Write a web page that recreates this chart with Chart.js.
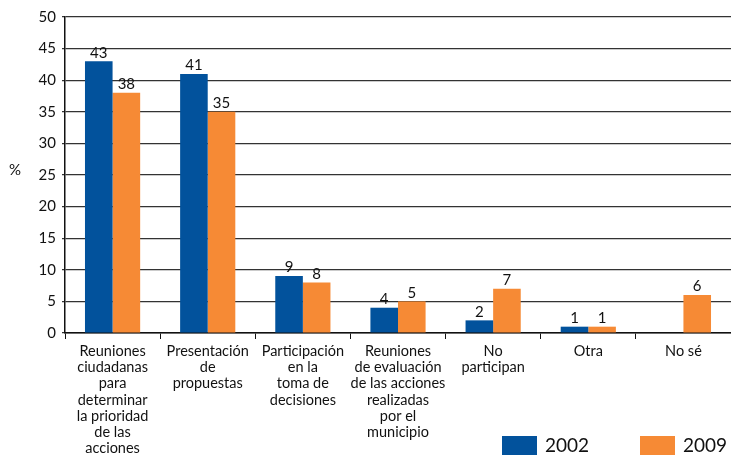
<!DOCTYPE html>
<html>
<head>
<meta charset="utf-8">
<script src="https://cdn.jsdelivr.net/npm/chart.js@4/dist/chart.umd.min.js"></script>
<style>
  html, body { margin: 0; padding: 0; background: #fff; }
  #wrap { width: 731px; height: 455px; }
</style>
</head>
<body>
<div id="wrap"><canvas id="chart" width="731" height="455"></canvas></div>
<script>
const categories = [
    ['Reuniones', 'ciudadanas', 'para', 'determinar', 'la prioridad', 'de las', 'acciones'],
    ['Presentación', 'de', 'propuestas'],
    ['Participación', 'en la', 'toma de', 'decisiones'],
    ['Reuniones', 'de evaluación', 'de las acciones', 'realizadas', 'por el', 'municipio'],
    ['No', 'participan'],
    ['Otra'],
    ['No sé']
];
const values2002 = [43, 41, 9, 4, 2, 1, null];
const values2009 = [38, 35, 8, 5, 7, 1, 6];
const yTicks = [0, 5, 10, 15, 20, 25, 30, 35, 40, 45, 50];

const FONT = 'Lato, "Open Sans", sans-serif';

// value labels above each bar, "%" unit, and the legend in the lower right
const extras = {
    id: 'extras',
    afterDatasetsDraw(chart) {
        const ctx = chart.ctx;
        ctx.save();
        ctx.fillStyle = '#111';
        ctx.font = '15px ' + FONT;
        ctx.textAlign = 'center';
        ctx.textBaseline = 'bottom';
        chart.data.datasets.forEach((ds, i) => {
            chart.getDatasetMeta(i).data.forEach((bar, j) => {
                if (ds.data[j] == null) return;
                ctx.fillText(ds.data[j], bar.x, bar.y - 1);
            });
        });

        ctx.font = '15px ' + FONT;
        ctx.textAlign = 'left';
        ctx.textBaseline = 'middle';
        ctx.fillText('%', 9, 170);

        const legendX = [502, 640];
        chart.data.datasets.forEach((ds, i) => {
            ctx.fillStyle = ds.backgroundColor;
            ctx.fillRect(legendX[i], 436, 35, 20);
            ctx.fillStyle = '#111';
            ctx.font = '19px ' + FONT;
            ctx.textBaseline = 'middle';
            ctx.fillText(ds.label, legendX[i] + 43, 446);
        });
        ctx.restore();
    }
};

new Chart(document.getElementById('chart'), {
    type: 'bar',
    data: {
        labels: categories,
        datasets: [
            {
                label: '2002',
                data: values2002,
                backgroundColor: '#02529c',
                barPercentage: 1,
                categoryPercentage: 0.58
            },
            {
                label: '2009',
                data: values2009,
                backgroundColor: '#f68a35',
                barPercentage: 1,
                categoryPercentage: 0.58
            }
        ]
    },
    options: {
        responsive: false,
        animation: false,
        layout: { padding: { top: 17, right: 0, left: 0, bottom: 0 } },
        plugins: {
            legend: { display: false },
            tooltip: { enabled: false }
        },
        scales: {
            x: {
                grid: {
                    offset: true,
                    drawOnChartArea: false,
                    drawTicks: true,
                    tickLength: 6,
                    color: '#111'
                },
                border: { color: '#111', width: 1.5 },
                ticks: {
                    color: '#111',
                    font: { family: FONT, size: 14.5, lineHeight: 1.12 },
                    maxRotation: 0,
                    autoSkip: false,
                    padding: 4
                },
                afterFit: scale => { scale.height = 122; }
            },
            y: {
                min: 0,
                max: 50,
                afterBuildTicks: scale => { scale.ticks = yTicks.map(v => ({ value: v })); },
                grid: {
                    color: '#333',
                    lineWidth: 1.2,
                    tickLength: 3
                },
                border: { color: '#111', width: 1.5 },
                ticks: {
                    color: '#111',
                    font: { family: FONT, size: 15 },
                    padding: 6
                },
                afterFit: scale => { scale.width = 65; }
            }
        }
    },
    plugins: [extras]
});
</script>
</body>
</html>
